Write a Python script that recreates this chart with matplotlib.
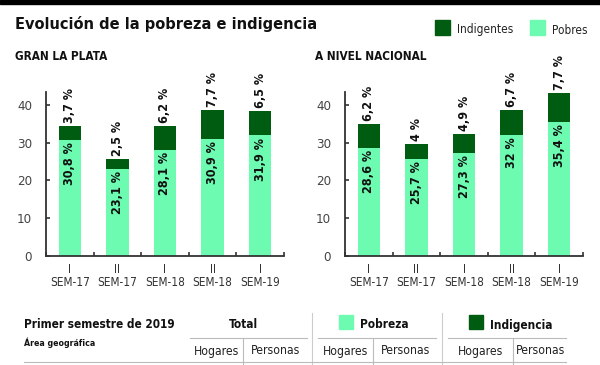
import numpy as np
import matplotlib.pyplot as plt
from matplotlib.patches import Rectangle
from matplotlib.lines import Line2D

plt.rcParams['font.family'] = ['DejaVu Sans']
plt.rcParams['font.stretch'] = 'condensed'

categories = ['I\nSEM-17', 'II\nSEM-17', 'I\nSEM-18', 'II\nSEM-18', 'I\nSEM-19']
gran_pobres = [30.8, 23.1, 28.1, 30.9, 31.9]
gran_indig = [3.7, 2.5, 6.2, 7.7, 6.5]
nac_pobres = [28.6, 25.7, 27.3, 32, 35.4]
nac_indig = [6.2, 4, 4.9, 6.7, 7.7]
yticks = [0, 10, 20, 30, 40]
groups = ['Total', 'Pobreza', 'Indigencia']
subcols = ['Hogares', 'Personas']

LIGHT = '#6cfbb0'
DARK = '#005c10'
W, H = 600, 365

fig = plt.figure(figsize=(6, 3.65), dpi=100)

def fx(x):
    return x / W

def fy(y):
    return 1 - y / H

def fmt(v):
    s = ('%g' % v).replace('.', ',')
    return s + ' %'

def panel(left, pobres, indig):
    ax = fig.add_axes([fx(left), fy(256), fx(238), 164 / H])
    x = np.arange(len(categories))
    ax.bar(x, pobres, 0.47, color=LIGHT)
    ax.bar(x, indig, 0.47, bottom=pobres, color=DARK)
    for i in range(len(x)):
        ax.text(x[i], pobres[i] - 0.6, fmt(pobres[i]), rotation=90, ha='center', va='top',
                fontsize=9, fontweight='bold', color='#111111')
        ax.text(x[i], pobres[i] + indig[i] + 0.8, fmt(indig[i]), rotation=90, ha='center', va='bottom',
                fontsize=9, fontweight='bold', color='#111111')
    ax.set_xlim(-0.5, 4.5)
    ax.set_ylim(0, 43.4)
    ax.set_yticks(yticks)
    ax.set_xticks(x)
    ax.set_xticklabels(categories, fontsize=8.5, color='#333333', linespacing=1.05)
    ax.set_xticks(np.arange(-0.5, 5, 1), minor=True)
    ax.tick_params(axis='x', which='major', length=0, pad=5)
    ax.tick_params(axis='x', which='minor', direction='in', length=3, width=1.2, color='#333333')
    ax.tick_params(axis='y', direction='in', length=3, width=1.2, color='#333333',
                   labelsize=9.5, labelcolor='#444444', pad=10)
    for s in ['top', 'right']:
        ax.spines[s].set_visible(False)
    for s in ['left', 'bottom']:
        ax.spines[s].set_color('#333333')
        ax.spines[s].set_linewidth(1.3)
    return ax

panel(46, gran_pobres, gran_indig)
panel(345, nac_pobres, nac_indig)

# top band
fig.patches.append(Rectangle((0, fy(4)), 1, 4 / H, transform=fig.transFigure, color='black'))

fig.text(fx(15), fy(24), 'Evolución de la pobreza e indigencia', fontsize=11.7,
         fontweight='bold', va='center', color='#111111')
fig.text(fx(15), fy(57), 'GRAN LA PLATA', fontsize=8.5, fontweight='bold', va='center', color='#111111')
fig.text(fx(315), fy(57), 'A NIVEL NACIONAL', fontsize=8.5, fontweight='bold', va='center', color='#111111')

# legend
for x0, col, lab in [(435, DARK, 'Indigentes'), (530, LIGHT, 'Pobres')]:
    fig.patches.append(Rectangle((fx(x0), fy(35)), fx(15), 15 / H, transform=fig.transFigure, color=col))
    fig.text(fx(x0 + 22), fy(30), lab, fontsize=8.5, va='center', color='#222222')

# table header
fig.text(fx(24), fy(325), 'Primer semestre de 2019', fontsize=8.5, fontweight='bold', va='center', color='#111111')
fig.text(fx(24), fy(343), 'Área geográfica', fontsize=6.3, fontweight='bold', va='center', color='#111111')

gx = [(190, 307), (318, 436), (448, 566)]
splits = [243, 373, 513]
gcolors = [None, LIGHT, DARK]
for (a, b), sp, name, col in zip(gx, splits, groups, gcolors):
    if col is None:
        fig.text(fx(243), fy(325), name, fontsize=8.5, fontweight='bold', ha='center', va='center', color='#111111')
    else:
        fig.patches.append(Rectangle((fx(a + 21), fy(329)), fx(14), 14 / H, transform=fig.transFigure, color=col))
        fig.text(fx(a + 42), fy(325), name, fontsize=8.5, fontweight='bold', ha='left', va='center', color='#111111')
    fig.add_artist(Line2D([fx(a), fx(b)], [fy(338), fy(338)], color='#bbbbbb', lw=0.8))
    fig.add_artist(Line2D([fx(sp), fx(sp)], [fy(338), fy(365)], color='#bbbbbb', lw=0.8))
    fig.text(fx((a + sp) / 2), fy(351), subcols[0], fontsize=8.7, ha='center', va='center', color='#222222')
    fig.text(fx((sp + b) / 2 + 1), fy(351), subcols[1], fontsize=8.7, ha='center', va='center', color='#222222')

for xs in [312, 442]:
    fig.add_artist(Line2D([fx(xs), fx(xs)], [fy(313), fy(365)], color='#cccccc', lw=0.8))
fig.add_artist(Line2D([fx(24), fx(566)], [fy(362), fy(362)], color='#bbbbbb', lw=0.8))

fig.savefig('out.png', dpi=100, facecolor='white')
